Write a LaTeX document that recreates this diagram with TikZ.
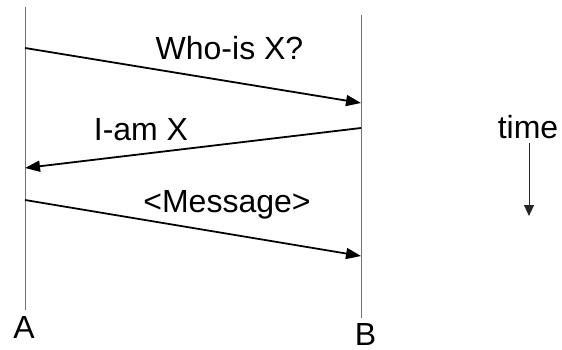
\documentclass[tikz,border=0pt]{standalone}
\usepackage{fontspec}
\setmainfont{Liberation Sans}
\usetikzlibrary{arrows.meta}

\begin{document}
\begin{tikzpicture}[x=1pt, y=-1pt,
        lifeline/.style={draw=black!55, line width=0.9pt},
        msg/.style={draw, line width=1.8pt, -{Triangle[length=15pt, width=11pt]}},
        timearrow/.style={draw=black!85, line width=1pt, -{Triangle[length=11pt, width=10pt]}},
        lbl/.style={font=\fontsize{32}{36}\selectfont, anchor=base, inner sep=0pt}]
        \useasboundingbox (0, 0) rectangle (562, 350);

        \pgfmathsetmacro{\posA}{25}
        \pgfmathsetmacro{\posB}{361}

        % lifelines
        \coordinate (topA) at (\posA, 7);
        \coordinate (botA) at (\posA, 310);
        \coordinate (topB) at (\posB, 15);
        \coordinate (botB) at (\posB, 318);
        \draw[lifeline] (topA) -- (botA);
        \draw[lifeline] (topB) -- (botB);
        \node[lbl] (labelA) at (\posA-1, 338) {A};
        \node[lbl] (labelB) at (\posB+4.5, 345) {B};

        % messages
        \coordinate (whoFrom) at (\posA, 48);
        \coordinate (whoTo) at (\posB, 103);
        \coordinate (iamFrom) at (\posB, 128);
        \coordinate (iamTo) at (\posA, 168);
        \coordinate (msgFrom) at (\posA, 200);
        \coordinate (msgTo) at (\posB, 256);
        \draw[msg] (whoFrom) -- (whoTo);
        \draw[msg] (iamFrom) -- (iamTo);
        \draw[msg] (msgFrom) -- (msgTo);
        \node[lbl] (whoText) at (229.5, 60) {Who-is X?};
        \node[lbl] (iamText) at (141, 140) {I-am X};
        \node[lbl] (msgText) at (227, 212) {<Message>};

        % time axis
        \node[lbl] (timeText) at (528, 139) {time};
        \coordinate (timeEnd) at (529, 216);
        \draw[timearrow] (529, 143) -- (timeEnd);
    \end{tikzpicture}
\end{document}
